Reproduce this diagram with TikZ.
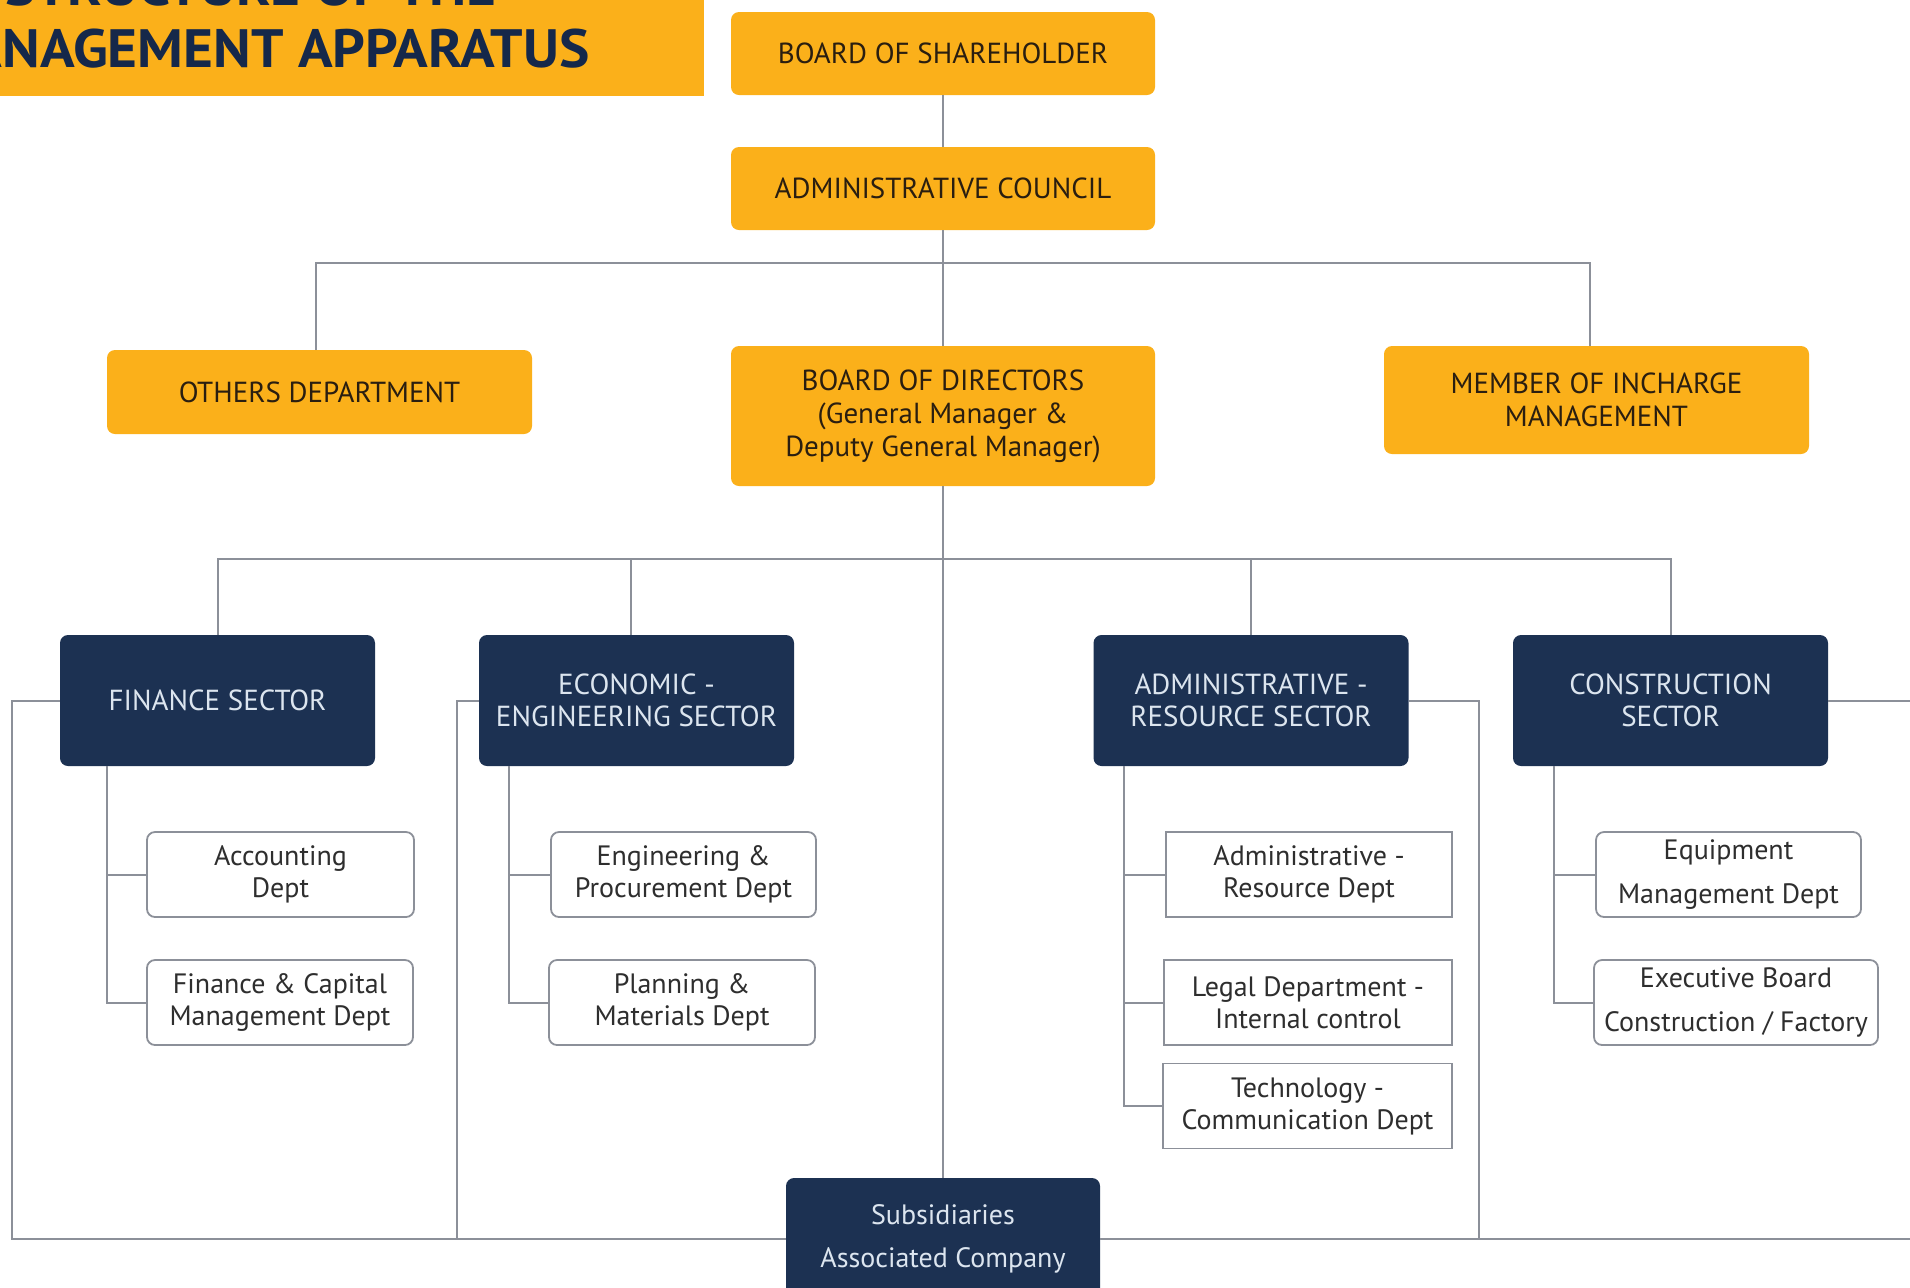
\documentclass[tikz,border=0pt]{standalone}
\usepackage{fontspec}
\setmainfont{PT Sans}
\newfontfamily\titlefont{PT Sans}[FakeStretch=1.06]
\definecolor{org}{HTML}{FBB01A}
\definecolor{navy}{HTML}{1C3152}
\definecolor{titlenavy}{HTML}{15284A}
\definecolor{lin}{HTML}{8C9099}
\definecolor{otext}{HTML}{2A1E10}
\definecolor{ntext}{HTML}{DCE5EF}
\definecolor{ctext}{HTML}{2E2E2E}
\begin{document}
\begin{tikzpicture}[x=0.5pt,y=-0.5pt,
  obox/.style={fill=org, rounded corners=4pt, text=otext, align=center,
    font=\fontsize{14.5}{16.5}\selectfont, inner sep=0pt, minimum width=212pt},
  nbox/.style={fill=navy, rounded corners=4pt, text=ntext, align=center,
    font=\fontsize{14.5}{16}\selectfont, minimum width=157.5pt, minimum height=65.5pt, inner sep=0pt},
  cbox/.style={draw=lin, line width=0.9pt, fill=white, rounded corners=4pt, text=ctext, align=center,
    font=\fontsize{14}{16}\selectfont, minimum height=42.5pt, inner sep=0pt},
  sqbox/.style={cbox, sharp corners},
  conn/.style={draw=lin, line width=1pt}]
\useasboundingbox (0,0) rectangle (1910,1287);
\clip (0,0) rectangle (1910,1287);
\fill[white] (0,0) rectangle (1910,1287);

% title
\fill[org] (-20,-20) rectangle (704,96);
\node[anchor=base east, text=titlenavy, font=\titlefont\bfseries\fontsize{27}{30}\selectfont, inner sep=0pt] (t1) at (497,5) {STRUCTURE OF THE};
\node[anchor=base east, text=titlenavy, font=\titlefont\bfseries\fontsize{27}{30}\selectfont, inner sep=0pt] (t2) at (590,67) {MANAGEMENT APPARATUS};

% orange boxes
\node[obox, minimum height=41.5pt] (bs) at (943,53.5) {BOARD OF SHAREHOLDER};
\node[obox, minimum height=41.5pt] (ac) at (943,188.5) {ADMINISTRATIVE COUNCIL};
\node[obox, minimum height=42pt, minimum width=212.5pt] (od) at (319.5,392) {OTHERS DEPARTMENT};
\node[obox, minimum height=70pt] (bd) at (943,416) {BOARD OF DIRECTORS\\(General Manager \&\\Deputy General Manager)};
\node[obox, minimum height=54pt, minimum width=212.5pt] (mim) at (1596.5,400) {MEMBER OF INCHARGE\\MANAGEMENT};

% sectors
\node[nbox] (fs) at (217.5,700.5) {FINANCE SECTOR};
\node[nbox] (ee) at (636.5,700.5) {ECONOMIC -\\ENGINEERING SECTOR};
\node[nbox] (ar) at (1251,700.5) {ADMINISTRATIVE -\\RESOURCE SECTOR};
\node[nbox] (cs) at (1670.5,700.5) {CONSTRUCTION\\SECTOR};

% departments
\node[cbox, minimum width=133.5pt] (acc) at (280.5,874.5) {Accounting\\Dept};
\node[cbox, minimum width=133pt] (fcm) at (280,1002.5) {Finance \& Capital\\Management Dept};
\node[cbox, minimum width=132.5pt] (epd) at (683.5,874.5) {Engineering \&\\Procurement Dept};
\node[cbox, minimum width=133pt] (pmd) at (682,1002.5) {Planning \&\\Materials Dept};
\node[sqbox, minimum width=143pt] (ard) at (1309,874.5) {Administrative -\\Resource Dept};
\node[sqbox, minimum width=144pt] (legal) at (1308,1002.5) {Legal Department -\\Internal control};
\node[sqbox, minimum width=144.5pt] (tech) at (1307.5,1106) {Technology -\\Communication Dept};
\node[cbox, minimum width=132.5pt, font=\fontsize{14}{22}\selectfont] (emd) at (1728.5,874.5) {Equipment\\Management Dept};
\node[cbox, minimum width=142pt, font=\fontsize{14}{22}\selectfont] (ebc) at (1736,1002.5) {Executive Board\\Construction / Factory};

% subsidiaries
\node[fill=navy, rounded corners=4pt, text=ntext, align=center, font=\fontsize{14}{21.5}\selectfont,
  minimum width=157pt, minimum height=61pt, inner sep=0pt] (sub) at (943,1239) {Subsidiaries\\Associated Company};

% top connectors
\draw[conn] (bs.south) -- (ac.north);
\draw[conn] (ac.south) -- (bd.north);
\draw[conn] ([xshift=-1.75pt]od.north) -- ++(0,-87) -| ([xshift=-3.25pt]mim.north);

% sector bus
\draw[conn] (fs.north) -- ++(0,-76) -| (cs.north);
\draw[conn] ([xshift=-2.75pt]ee.north) -- ++(0,-76);
\draw[conn] (ar.north) -- ++(0,-76);
\draw[conn] (bd.south) -- (sub.north);

% branches
\coordinate (f1) at ([xshift=23.5pt]fs.south west);
\draw[conn] (f1) |- (fcm.west);
\draw[conn] (acc.west) -- (acc.west -| f1);
\coordinate (e1) at ([xshift=15pt]ee.south west);
\draw[conn] (e1) |- (pmd.west);
\draw[conn] (epd.west) -- (epd.west -| e1);
\coordinate (a1) at ([xshift=15.5pt]ar.south west);
\draw[conn] (a1) |- (tech.west);
\draw[conn] (ard.west) -- (ard.west -| a1);
\draw[conn] (legal.west) -- (legal.west -| a1);
\coordinate (c1) at ([xshift=20.5pt]cs.south west);
\draw[conn] (c1) |- (ebc.west);
\draw[conn] (emd.west) -- (emd.west -| c1);

% outer links to subsidiaries
\draw[conn] (fs.west) -- ++(-48,0) |- (sub.west);
\draw[conn] (ee.west) -- ++(-22,0) |- (sub.west);
\draw[conn] (ar.east) -- ++(70,0) |- (sub.east);
\draw[conn] (cs.east) -- ++(100,0) |- (sub.east);
\end{tikzpicture}
\end{document}
